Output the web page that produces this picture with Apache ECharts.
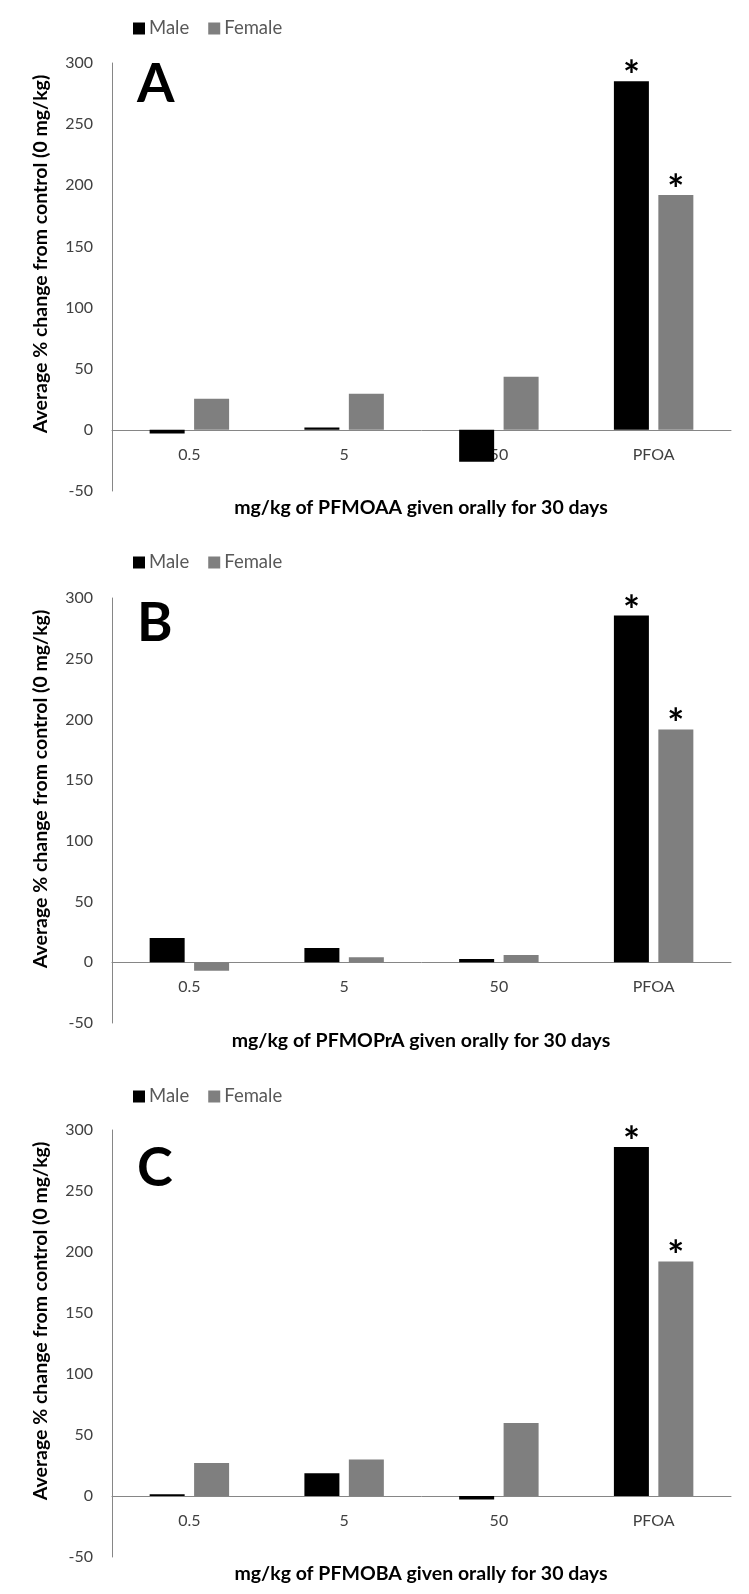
<!DOCTYPE html>
<html>
<head>
<meta charset="utf-8">
<script src="https://cdn.jsdelivr.net/npm/echarts@6/dist/echarts.min.js"></script>
<style>
html,body{margin:0;padding:0;background:#fff;}
#chart{width:749px;height:1594px;}
</style>
</head>
<body>
<div id="chart"></div>
<script>
// ---- data ----
const categories = ['0.5', '5', '50', 'PFOA'];
const seriesNames = ['Male', 'Female'];
const panelLetters = ['A', 'B', 'C'];
const xTitles = [
  'mg/kg of PFMOAA given orally for 30 days',
  'mg/kg of PFMOPrA given orally for 30 days',
  'mg/kg of PFMOBA given orally for 30 days'
];
const yTitle = 'Average % change from control (0 mg/kg)';
const maleA = [-3, 2, -26, 285];
const femaleA = [25.5, 29.5, 43.5, 192];
const maleB = [20, 11.7, 2.8, 285.5];
const femaleB = [-7, 4.2, 6.1, 191.7];
const maleC = [1.4, 18.7, -2.8, 286];
const femaleC = [27, 29.9, 59.8, 192.2];
const maleSig = [false, false, false, true];
const femaleSig = [false, false, false, true];
const yMin = -50, yMax = 300, yInterval = 50;

const maleData = [maleA, maleB, maleC];
const femaleData = [femaleA, femaleB, femaleC];

// ---- layout ----
const FONT = 'Lato, "Open Sans", sans-serif';
const gridTops = [63, 598, 1130];
const gridHeights = [428, 425, 427];
const legendYs = [24, 558, 1092];
const letterTops = [63, 607, 1150];
const letterShift = [-5, -10, -8];

const chart = echarts.init(document.getElementById('chart'), null, {renderer: 'canvas'});

const grids = [], xAxes = [], yAxes = [], series = [], legends = [], graphics = [];
for (let i = 0; i < 3; i++) {
  const zeroOffset = gridHeights[i] * (0 - yMin) / (yMax - yMin);
  const zeroY = gridTops[i] + gridHeights[i] - zeroOffset;
  grids.push({left: 112, width: 619, top: gridTops[i], height: gridHeights[i]});
  xAxes.push({
    type: 'category', gridIndex: i, data: categories, position: 'bottom',
    offset: -zeroOffset,
    axisLine: {onZero: false, lineStyle: {color: '#868686', width: 1}},
    axisTick: {show: false},
    axisLabel: {fontSize: 16, color: '#404040', fontFamily: FONT, margin: 17}
  });
  yAxes.push({
    type: 'value', gridIndex: i, min: yMin, max: yMax, interval: yInterval,
    axisLine: {show: true, lineStyle: {color: '#868686', width: 1}},
    axisTick: {show: false},
    splitLine: {show: false},
    axisLabel: {fontSize: 16, color: '#404040', fontFamily: FONT, margin: 19}
  });
  const mk = (name, data, color, sig) => ({
    name, type: 'bar', xAxisIndex: i, yAxisIndex: i, data,
    barWidth: 35, barGap: '27%',
    itemStyle: {color},
    label: {
      show: true, position: 'top', distance: -16,
      formatter: p => sig[p.dataIndex] ? '*' : '',
      fontSize: 40, fontWeight: 'bold', color: '#000', fontFamily: FONT
    }
  });
  series.push(mk('Male', maleData[i], '#000000', maleSig));
  series.push(mk('Female', femaleData[i], '#7f7f7f', femaleSig));
  legends.push({
    data: seriesNames, left: 128, top: legendYs[i] - 10,
    icon: 'rect', itemWidth: 12, itemHeight: 12, itemGap: 19,
    textStyle: {fontSize: 18.5, color: '#595959', fontFamily: FONT, padding: [0, 0, 0, -1]},
    selectedMode: false
  });
  graphics.push({
    type: 'text', x: 41, y: gridTops[i] + 191, rotation: Math.PI / 2,
    style: {text: yTitle, fontSize: 19.5, fontWeight: 'bold', fill: '#000', fontFamily: FONT,
            textAlign: 'center', textVerticalAlign: 'middle'}
  });
  graphics.push({
    type: 'text', x: 421, y: zeroY + 78,
    style: {text: xTitles[i], fontSize: 19.5, fontWeight: 'bold', fill: '#000', fontFamily: FONT,
            textAlign: 'center', textVerticalAlign: 'middle'}
  });
  graphics.push({
    type: 'text', x: 137, y: letterTops[i] + letterShift[i],
    style: {text: panelLetters[i], fontSize: 54, fontWeight: 'bold', fill: '#000', fontFamily: FONT,
            textAlign: 'left', textVerticalAlign: 'top'}
  });
}

chart.setOption({
  animation: false,
  backgroundColor: '#fff',
  grid: grids, xAxis: xAxes, yAxis: yAxes, series, legend: legends, graphic: graphics
});
</script>
</body>
</html>
